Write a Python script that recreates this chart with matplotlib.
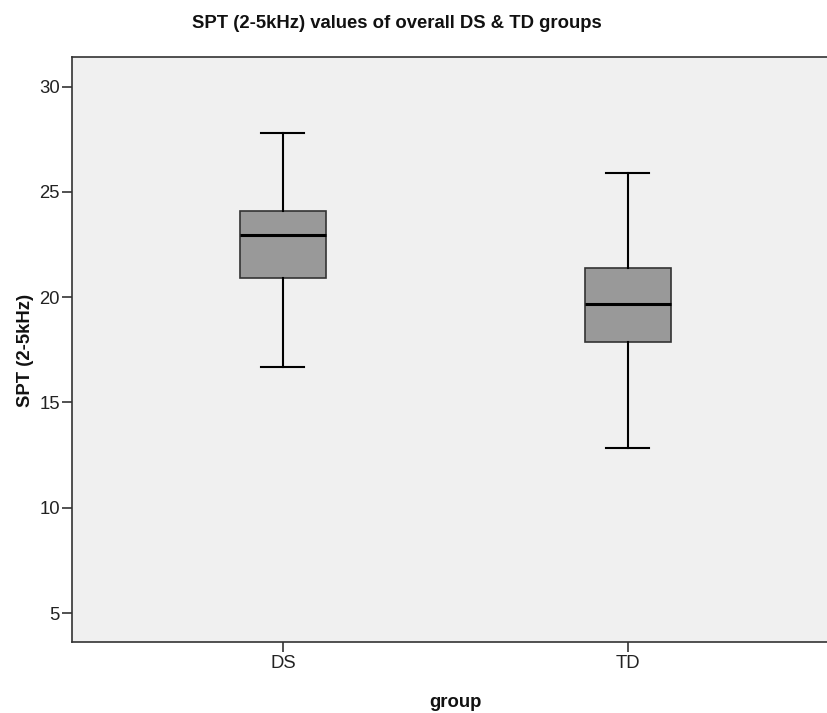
import matplotlib
matplotlib.use('Agg')
import matplotlib.pyplot as plt

matplotlib.rcParams['font.family'] = ['Liberation Sans', 'DejaVu Sans']

groups = ['DS', 'TD']
whisker_low = [16.69, 12.82]
q1 = [20.92, 17.88]
median = [22.97, 19.67]
q3 = [24.10, 21.41]
whisker_high = [27.78, 25.92]

stats = []
for i, g in enumerate(groups):
    stats.append({'label': g, 'whislo': whisker_low[i], 'q1': q1[i],
                  'med': median[i], 'q3': q3[i], 'whishi': whisker_high[i],
                  'fliers': []})

fig = plt.figure(figsize=(8.27, 7.13), dpi=100)
ax = fig.add_axes([0.0867, 0.0992, 0.9278, 0.8205])
ax.set_facecolor('#f0f0f0')

ax.bxp(stats, positions=[1, 2], widths=0.25, capwidths=0.125,
       patch_artist=True, showfliers=False,
       boxprops=dict(facecolor='#999999', edgecolor='#333333', linewidth=1.2),
       medianprops=dict(color='black', linewidth=2.2),
       whiskerprops=dict(color='black', linewidth=1.5),
       capprops=dict(color='black', linewidth=1.5))

ax.set_xlim(0.388, 2.612)
ax.set_ylim(3.61, 31.40)
ax.set_yticks([5, 10, 15, 20, 25, 30])

for s in ax.spines.values():
    s.set_color('#333333')
    s.set_linewidth(1.2)

ax.tick_params(axis='both', direction='out', length=7, width=1.2,
               color='#333333', labelcolor='#222222', labelsize=13.3)
ax.tick_params(axis='y', pad=1.5)
ax.tick_params(axis='x', pad=2)

fig.text(397 / 827, 1 - 28 / 713, 'SPT (2-5kHz) values of overall DS & TD groups',
         ha='center', va='baseline', fontsize=13.3, fontweight='bold', color='#111111')
fig.text(455 / 827, 1 - 707 / 713, 'group', ha='center', va='baseline',
         fontsize=13.3, fontweight='bold', color='#111111')
fig.text(25 / 827, 1 - 350 / 713, 'SPT (2-5kHz)', ha='center', va='center',
         rotation=90, fontsize=13.3, fontweight='bold', color='#111111')

fig.savefig('out.png', dpi=100)
